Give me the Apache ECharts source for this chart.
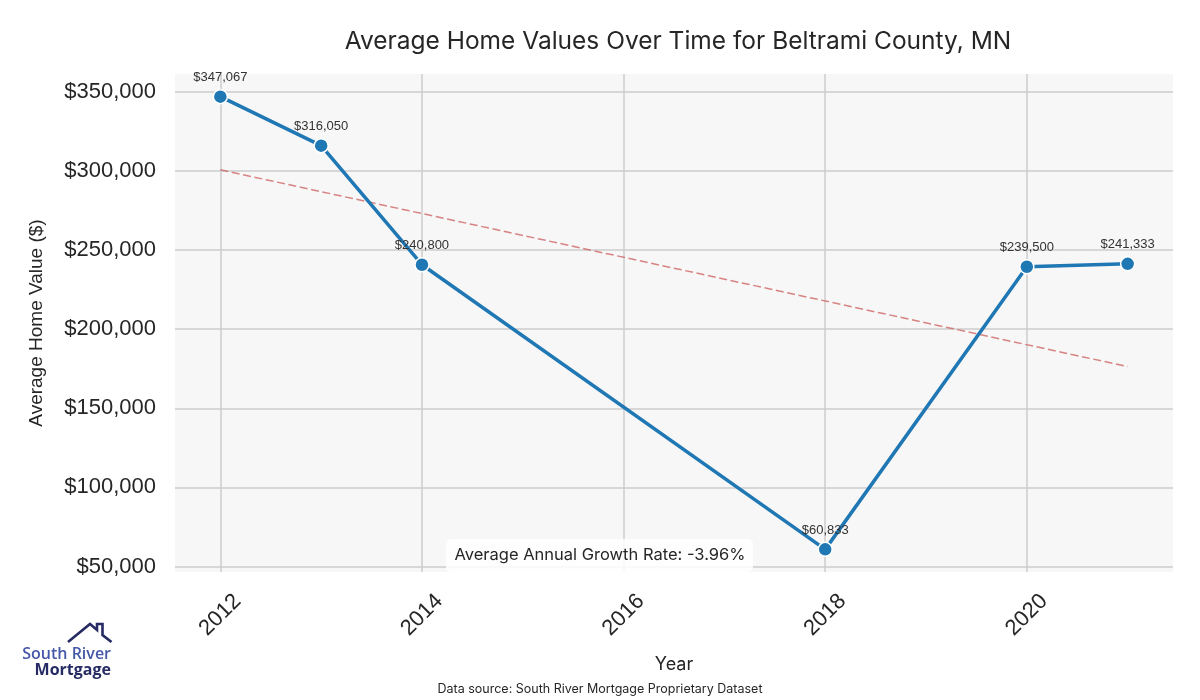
<!DOCTYPE html>
<html>
<head>
<meta charset="utf-8">
<style>
  html, body { margin: 0; padding: 0; background: #ffffff; }
  #chart { width: 1200px; height: 700px; }
</style>
<script src="https://cdn.jsdelivr.net/npm/echarts@6/dist/echarts.min.js"></script>
</head>
<body>
<div id="chart"></div>
<script>
// ---- Data ----
const years = [2012, 2013, 2014, 2018, 2020, 2021];
const homeValues = [347067, 316050, 240800, 60833, 239500, 241333];
const trendYears = [2012, 2021];
const trendValues = [300800, 176400];
const titleText = 'Average Home Values Over Time for Beltrami County, MN';
const growthText = 'Average Annual Growth Rate: -3.96%';
const sourceText = 'Data source: South River Mortgage Proprietary Dataset';

const lineData = years.map((y, i) => [y, homeValues[i]]);
const trendData = trendYears.map((y, i) => [y, trendValues[i]]);

const money = v => '$' + Math.round(v).toLocaleString('en-US');
const titleFont = 'Inter, "Noto Sans", sans-serif';
const tickFont = '"Liberation Sans", Arial, sans-serif';

const chart = echarts.init(document.getElementById('chart'), null, { renderer: 'canvas' });

const option = {
  backgroundColor: '#ffffff',
  animation: false,
  title: {
    text: titleText,
    left: 673, top: 24, textAlign: 'center',
    textStyle: { fontFamily: titleFont, fontSize: 24.5, fontWeight: 'normal', color: '#262626' }
  },
  grid: {
    left: 175, right: 27, top: 74, bottom: 128,
    show: true, backgroundColor: '#f7f7f7', borderWidth: 0
  },
  xAxis: {
    type: 'value',
    min: 2011.55, max: 2021.45,
    name: 'Year', nameLocation: 'middle', nameGap: 84,
    nameTextStyle: { fontFamily: titleFont, fontSize: 18, color: '#262626' },
    axisLine: { show: false },
    axisTick: { show: false },
    axisLabel: {
      rotate: 45, fontSize: 22, fontFamily: tickFont, color: '#262626',
      align: 'center', verticalAlign: 'middle',
      margin: 43,
      formatter: v => (Math.abs(v - Math.round(v)) < 1e-6 && Math.round(v) % 2 === 0) ? String(Math.round(v)) : ''
    },
    splitLine: { show: true, showMinLine: false, showMaxLine: false, lineStyle: { color: '#cccccc', width: 1.5 } }
  },
  yAxis: {
    type: 'value',
    min: 46521, max: 361379,
    name: 'Average Home Value ($)', nameLocation: 'middle', nameGap: 129,
    nameTextStyle: { fontFamily: tickFont, fontSize: 19, color: '#262626' },
    axisLine: { show: false },
    axisTick: { show: false },
    axisLabel: {
      fontSize: 22, fontFamily: tickFont, color: '#262626', margin: 19,
      formatter: v => (Math.abs(v % 50000) < 1e-6) ? money(v) : ''
    },
    splitLine: { show: true, showMinLine: false, showMaxLine: false, lineStyle: { color: '#cccccc', width: 1.5 } }
  },
  series: [
    {
      type: 'line',
      data: trendData,
      symbol: 'none',
      silent: true,
      z: 2,
      lineStyle: { color: 'rgba(205,92,92,0.75)', width: 1.5, type: [8, 3.6] }
    },
    {
      type: 'line',
      data: lineData,
      z: 3,
      symbol: 'circle', symbolSize: 14,
      lineStyle: { color: '#1f77b4', width: 3.5 },
      itemStyle: { color: '#1f77b4', borderColor: '#ffffff', borderWidth: 1.5 },
      label: {
        show: true, position: 'top', distance: 5,
        fontFamily: tickFont, fontSize: 13, color: '#333333',
        formatter: p => money(p.value[1])
      }
    }
  ],
  graphic: [
    {
      type: 'rect', z: 10,
      shape: { x: 446, y: 539, width: 307, height: 33, r: 5 },
      style: { fill: 'rgba(255,255,255,0.85)' }
    },
    {
      type: 'text', z: 11,
      x: 600, y: 555,
      style: { text: growthText, fontFamily: titleFont, fontSize: 16.5, fill: '#262626', textAlign: 'center', textVerticalAlign: 'middle' }
    },
    {
      type: 'text', z: 11,
      x: 600, y: 689,
      style: { text: sourceText, fontFamily: titleFont, fontSize: 12.5, fill: '#262626', textAlign: 'center', textVerticalAlign: 'middle' }
    },
    {
      type: 'polyline', z: 11,
      shape: { points: [[68, 642], [90, 624], [97, 630], [97, 624], [102.5, 624], [102.5, 635], [111.5, 642]] },
      style: { stroke: '#262b63', lineWidth: 2.6, fill: null, lineJoin: 'miter' }
    },
    {
      type: 'text', z: 11,
      x: 111, y: 654,
      style: { text: 'South River', fontFamily: '"Open Sans", sans-serif', fontWeight: 600, fontSize: 16, fill: '#4658a8', textAlign: 'right', textVerticalAlign: 'middle' }
    },
    {
      type: 'text', z: 11,
      x: 111, y: 670,
      style: { text: 'Mortgage', fontFamily: '"Open Sans", sans-serif', fontWeight: 'bold', fontSize: 16, fill: '#262b63', textAlign: 'right', textVerticalAlign: 'middle' }
    }
  ]
};

chart.setOption(option);
</script>
</body>
</html>
